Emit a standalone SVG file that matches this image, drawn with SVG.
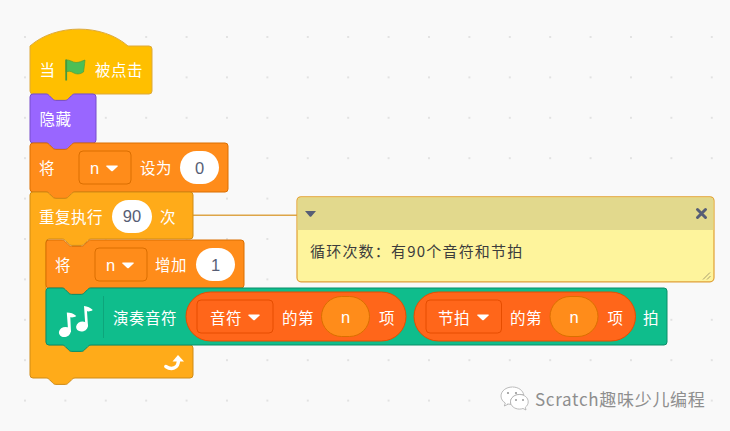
<svg xmlns="http://www.w3.org/2000/svg" width="730" height="431" viewBox="0 0 730 431">
<style>
text{font-family:"Noto Sans CJK SC","Liberation Sans",sans-serif}
.t{font-size:15.500px;letter-spacing:.5px;fill:#fff}
.l{font-family:"Liberation Sans","Noto Sans CJK SC",sans-serif;font-size:16.500px;fill:#fff;text-anchor:middle}
.v{font-family:"Liberation Sans",sans-serif;font-size:16.500px;fill:#575E75;text-anchor:middle}
.dd{fill:#FF8C1A;stroke:#DB6E00;stroke-width:1}
.ddr{fill:#FF661A;stroke:#E64D00;stroke-width:1}
.arrow{fill:#fff}
.inp{fill:#fff}
.rep{fill:#FF661A;stroke:#E64D00;stroke-width:1}
.nv{fill:#FF8C1A;stroke:#DB6E00;stroke-width:1}
</style>
<defs>
<pattern id="dots" x="24" y="36" width="40.4" height="40.4" patternUnits="userSpaceOnUse"><rect x="0" y="0" width="2" height="2" fill="#E2E2E2"/></pattern>
<path id="tri" d="M0 0h10c.8 0 1 .7.6 1.100L5.800 5.400c-.5.400-1.100.400-1.600 0L-.6 1.100C-1 .7-.8 0 0 0z"/>
</defs>
<rect width="730" height="431" fill="#F9F9F9"/>
<rect width="730" height="431" fill="url(#dots)"/>

<g id="connectors"><path d="M193 215.300H297" fill="none" stroke="#DDA548" stroke-width="1.400"/></g>

<g id="hat">
<path d="M30 46c25.500-22.500 72.500-22.500 98 0H149Q152 46 152 49V91Q152 94 149 94H75c-1.600 0-2.400.8-3.200 1.600l-3.200 3.200c-.8.800-1.600 1.600-3.200 1.600h-9.600c-1.600 0-2.400-.8-3.200-1.600l-3.200-3.200c-.8-.8-1.600-1.600-3.200-1.600H33Q30 94 30 91Z" fill="#FFBF00" stroke="#DDA93A"/>
<text class="t" x="39.500" y="76">当</text>
<path d="M66 60c4-.5 6.500 2.500 10 2.500 3 0 6-1.500 9-2.500-.5 5-1 9-1.500 12-3.500 2.500-7.500 2.500-10.500.5-2.500-1.500-4.500-1.500-7-.5Z" fill="#4CBF56" stroke="#45993D" stroke-width=".6"/>
<rect x="65.300" y="59.500" width="1.800" height="21" fill="#45993D"/>
<text class="t" x="95" y="76" letter-spacing="1.200">被点击</text>
</g>

<g id="hide">
<path d="M30 97Q30 94 33 94H46c1.600 0 2.400.8 3.200 1.600l3.200 3.200c.8.800 1.600 1.600 3.200 1.600h9.600c1.600 0 2.400-.8 3.200-1.600l3.200-3.200c.8-.8 1.600-1.600 3.200-1.600H93Q96 94 96 97V140Q96 143 93 143H75c-1.600 0-2.400.8-3.200 1.600l-3.200 3.200c-.8.800-1.600 1.600-3.200 1.600h-9.600c-1.600 0-2.400-.8-3.200-1.600l-3.200-3.200c-.8-.8-1.600-1.600-3.200-1.600H33Q30 143 30 140Z" fill="#9966FF" stroke="#774DCB"/>
<text class="t" x="39.500" y="125">隐藏</text>
</g>

<g id="set-n">
<path d="M30 146Q30 143 33 143H46c1.600 0 2.400.8 3.200 1.600l3.200 3.200c.8.800 1.600 1.600 3.200 1.600h9.600c1.600 0 2.400-.8 3.200-1.600l3.200-3.200c.8-.8 1.600-1.600 3.200-1.600H225Q228 143 228 146V189Q228 192 225 192H75c-1.600 0-2.400.8-3.200 1.600l-3.200 3.200c-.8.800-1.600 1.600-3.200 1.600h-9.600c-1.600 0-2.400-.8-3.200-1.600l-3.200-3.200c-.8-.8-1.600-1.600-3.200-1.600H33Q30 192 30 189Z" fill="#FF8C1A" stroke="#DB6E00"/>
<text class="t" x="39" y="174">将</text>
<rect class="dd" x="79" y="151" width="52" height="33" rx="4"/>
<text class="l" x="94.500" y="173.500">n</text>
<use href="#tri" class="arrow" x="107" y="165.500"/>
<text class="t" x="140" y="174">设为</text>
<rect class="inp" x="180" y="151" width="39" height="33" rx="16.500"/>
<text class="v" x="199.500" y="173.500">0</text>
</g>

<g id="repeat">
<path d="M30 195Q30 192 33 192H46c1.600 0 2.400.8 3.200 1.600l3.200 3.200c.8.800 1.600 1.600 3.200 1.600h9.600c1.600 0 2.400-.8 3.200-1.600l3.200-3.200c.8-.8 1.600-1.600 3.200-1.600H190Q193 192 193 195V236Q193 239 190 239H91c-1.600 0-2.400.8-3.200 1.600l-3.200 3.200c-.8.800-1.600 1.600-3.200 1.600h-9.600c-1.600 0-2.400-.8-3.200-1.600l-3.200-3.200c-.8-.8-1.600-1.600-3.200-1.600H49Q46 239 46 242V342Q46 345 49 345H62c1.600 0 2.400.8 3.200 1.600l3.200 3.200c.8.800 1.600 1.600 3.200 1.600h9.600c1.600 0 2.400-.8 3.200-1.600l3.200-3.200c.8-.8 1.600-1.600 3.200-1.600H190Q193 345 193 348V375Q193 378 190 378H75c-1.600 0-2.400.8-3.200 1.600l-3.200 3.200c-.8.800-1.600 1.600-3.200 1.600h-9.600c-1.600 0-2.400-.8-3.200-1.600l-3.200-3.200c-.8-.8-1.600-1.600-3.200-1.600H33Q30 378 30 375Z" fill="#FFAB19" stroke="#CF8B17"/>
<text class="t" x="39" y="222.500">重复执行</text>
<rect class="inp" x="112" y="200" width="40" height="33" rx="16.500"/>
<text class="v" x="132" y="222">90</text>
<text class="t" x="160" y="222.500">次</text>
<path d="M165.800 366.500C171 370 178.500 369 178.500 360" fill="none" stroke="#fff" stroke-width="3.400" stroke-linecap="round"/>
<path d="M178 355l6 6.500h-11.500Z" fill="#fff"/>
</g>

<g id="change-n">
<path d="M46 243Q46 240 49 240H62c1.600 0 2.400.8 3.200 1.600l3.200 3.200c.8.800 1.600 1.600 3.200 1.600h9.600c1.600 0 2.400-.8 3.200-1.600l3.200-3.200c.8-.8 1.600-1.600 3.200-1.600H241Q244 240 244 243V285Q244 288 241 288H91c-1.600 0-2.400.8-3.200 1.600l-3.200 3.200c-.8.800-1.600 1.600-3.200 1.600h-9.600c-1.600 0-2.400-.8-3.200-1.600l-3.200-3.200c-.8-.8-1.600-1.600-3.200-1.600H49Q46 288 46 285Z" fill="#FF8C1A" stroke="#DB6E00"/>
<text class="t" x="55" y="271">将</text>
<rect class="dd" x="95" y="248" width="52" height="33" rx="4"/>
<text class="l" x="110.500" y="270.500">n</text>
<use href="#tri" class="arrow" x="123" y="262.500"/>
<text class="t" x="155" y="271">增加</text>
<rect class="inp" x="196" y="248" width="39" height="33" rx="16.500"/>
<text class="v" x="215.500" y="270.500">1</text>
</g>

<g id="play-note">
<path d="M46 291Q46 288 49 288H62c1.600 0 2.400.8 3.200 1.600l3.200 3.200c.8.800 1.600 1.600 3.200 1.600h9.600c1.600 0 2.400-.8 3.200-1.600l3.200-3.200c.8-.8 1.600-1.600 3.200-1.600H664Q667 288 667 291V342Q667 345 664 345H91c-1.600 0-2.400.8-3.200 1.600l-3.200 3.200c-.8.800-1.600 1.600-3.200 1.600h-9.600c-1.600 0-2.400-.8-3.200-1.600l-3.200-3.200c-.8-.8-1.600-1.600-3.200-1.600H49Q46 345 46 342Z" fill="#0FBD8C" stroke="#0B8E69"/>
<path d="M103.500 296V338" stroke="#0B8E69" stroke-opacity=".5" stroke-width="1"/>
<g fill="#fff">
<ellipse cx="64.800" cy="332" rx="6" ry="5" transform="rotate(-18 64.800 332)"/>
<path d="M68.200 332L66.800 312.500c3.500 0 7 1 9.500 3.500-2 1.500-4 1.500-6 1.300L71 332Z"/>
<ellipse cx="82" cy="326.500" rx="6" ry="4.900" transform="rotate(-18 82 326.500)"/>
<path d="M85.400 326.500L84 306c3.500 .5 6.500 1.800 8.800 4-2 1.500-3.800 1.500-5.800 1.300L88 326.500Z"/>
</g>
<text class="t" x="113" y="323.500">演奏音符</text>
<rect class="rep" x="186" y="292" width="220" height="49" rx="24.500"/>
<rect class="ddr" x="197" y="300" width="76" height="33" rx="4"/>
<text class="t" x="210" y="323.500">音符</text>
<use href="#tri" class="arrow" x="249" y="314.500"/>
<text class="t" x="282" y="323.500">的第</text>
<rect class="nv" x="321.500" y="296.500" width="48" height="40" rx="20"/>
<text class="l" x="345.500" y="322.500">n</text>
<text class="t" x="379" y="323.500">项</text>
<rect class="rep" x="414" y="292" width="221.500" height="49" rx="24.500"/>
<rect class="ddr" x="426" y="300" width="75.500" height="33" rx="4"/>
<text class="t" x="438" y="323.500">节拍</text>
<use href="#tri" class="arrow" x="478" y="314.500"/>
<text class="t" x="510" y="323.500">的第</text>
<rect class="nv" x="550" y="296.500" width="48" height="40" rx="20"/>
<text class="l" x="574" y="322.500">n</text>
<text class="t" x="607.500" y="323.500">项</text>
<text class="t" x="643" y="323.500">拍</text>
</g>

<g id="comment">
<rect x="297" y="196.800" width="417" height="85" rx="4" fill="#FEF49C" stroke="#E0A034" stroke-width="1.200"/>
<path d="M297.600 230V201Q297.600 197.400 301 197.400H710Q713.400 197.400 713.400 201V230Z" fill="#E2D98D"/>
<path d="M305 211h11l-4.700 5.400c-.6.600-1.100.600-1.600 0Z" fill="#575E75"/>
<path d="M697.500 209.500l8 8M705.500 209.500l-8 8" stroke="#575E75" stroke-width="3" stroke-linecap="round"/>
<text x="310" y="256.500" font-size="15" letter-spacing="1.200" fill="#3C3C3C">循环次数：有90个音符和节拍</text>
<path d="M703 279.500l7-7M707 279.500l3.500-3.500" stroke="#A89F72" stroke-width="1"/>
</g>

<g id="watermark">
<path d="M512.500 387c-6.500 0-11.500 4-11.500 9 0 3 1.700 5.500 4.300 7l-1 3 3.800-1.800" fill="#fff" stroke="#aaa" stroke-width=".8"/>
<path d="M512.500 387c6 0 10.500 3.500 11.300 8-1-.4-2.300-.6-3.800-.6-5.500 0-9.500 3.500-9.500 7.500 0 1 .2 1.700.5 2.400-1.500 0-2.700-.2-3.500-.5" fill="#fff" stroke="#aaa" stroke-width=".8"/>
<path d="M519.500 394.500c-5 0-9 3.300-9 7.300s4 7.300 9 7.300c1.300 0 2.400-.2 3.500-.6l3 1.500-.7-2.700c1.800-1.300 2.900-3.300 2.900-5.500 0-4-3.700-7.300-8.700-7.300Z" fill="#fff" stroke="#aaa" stroke-width=".8"/>
<circle cx="508" cy="393" r="1.100" fill="#999"/><circle cx="516" cy="393" r="1.100" fill="#999"/>
<circle cx="516" cy="400" r="1" fill="#999"/><circle cx="523" cy="400" r="1" fill="#999"/>
<text x="535" y="405.500" font-size="17" letter-spacing=".7" fill="#8E8E8E">Scratch趣味少儿编程</text>
</g>
</svg>
